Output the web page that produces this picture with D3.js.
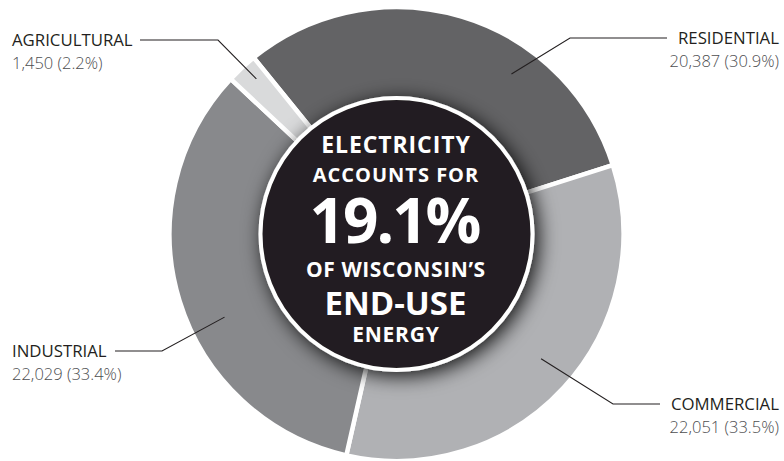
<!DOCTYPE html>
<html>
<head>
<meta charset="utf-8">
<script src="https://cdn.jsdelivr.net/npm/d3@7"></script>
<style>
  html, body { margin: 0; padding: 0; background: #ffffff; }
  svg { display: block; }
</style>
</head>
<body>
<svg id="chart" width="784" height="461"></svg>
<script>
// ---- data ----
const categories = ["RESIDENTIAL", "COMMERCIAL", "INDUSTRIAL", "AGRICULTURAL"];
const values = [20387, 22051, 22029, 1450];
const valueLabels = ["20,387 (30.9%)", "22,051 (33.5%)", "22,029 (33.4%)", "1,450 (2.2%)"];
const centerLines = ["ELECTRICITY", "ACCOUNTS FOR", "19.1%", "OF WISCONSIN\u2019S", "END-USE", "ENERGY"];

// ---- layout / style ----
const W = 784, H = 461;
const cx = 396.5, cy = 234;
const outerR = 227, innerR = 110;
const colors = ["#636365", "#b0b1b4", "#88898c", "#d9dadb"];
const startAngle = -39 * Math.PI / 180;

const svg = d3.select("#chart");
const defs = svg.append("defs");
const f = defs.append("filter").attr("id", "shadow")
  .attr("x", "-30%").attr("y", "-30%").attr("width", "160%").attr("height", "160%");
f.append("feDropShadow").attr("dx", 4).attr("dy", 4).attr("stdDeviation", 10)
  .attr("flood-color", "#000").attr("flood-opacity", 0.9);

const g = svg.append("g").attr("transform", `translate(${cx},${cy})`);

const pie = d3.pie().sort(null).value(d => d)
  .startAngle(startAngle).endAngle(startAngle + 2 * Math.PI);
const arcs = pie(values);
const arc = d3.arc().innerRadius(innerR).outerRadius(outerR);

g.selectAll("path.slice").data(arcs).join("path")
  .attr("class", "slice")
  .attr("d", arc)
  .attr("fill", (d, i) => colors[i])
  .attr("stroke", "#ffffff")
  .attr("stroke-width", 4.5)
  .attr("stroke-linejoin", "miter");

// center disc
g.append("circle").attr("r", 136)
  .attr("fill", "#231f20")
  .attr("stroke", "#ffffff").attr("stroke-width", 4)
  .attr("filter", "url(#shadow)");

// center text
const ctext = [
  { size: 23, dy: -81, ls: 0.9 },
  { size: 20, dy: -52, ls: 1.0 },
  { size: 62, dy: 9, ls: -2 },
  { size: 21, dy: 43, ls: 0.6 },
  { size: 33, dy: 81, ls: 0 },
  { size: 21, dy: 108, ls: 0.8 }
];
g.selectAll("text.center").data(centerLines).join("text")
  .attr("class", "center")
  .attr("x", (d, i) => -1 + ctext[i].ls / 2)
  .attr("y", (d, i) => ctext[i].dy)
  .attr("text-anchor", "middle")
  .attr("fill", "#ffffff")
  .attr("font-family", "'Open Sans', sans-serif")
  .attr("font-weight", 700)
  .attr("font-size", (d, i) => ctext[i].size)
  .attr("letter-spacing", (d, i) => ctext[i].ls)
  .text(d => d);

// leader lines and labels
const leaderLayout = [
  { ang: 35.7, r: 197, elbow: [570, 38], end: [667, 38], side: "right" },
  { ang: 130.8, r: 191, elbow: [613, 404], end: [660, 404], side: "right" },
  { ang: 244.2, r: 191, elbow: [162, 351], end: [115, 351], side: "left" },
  { ang: -42.1, r: 209, elbow: [218, 40], end: [140, 40], side: "left" }
];
const lineG = svg.append("g");
arcs.forEach((a, i) => {
  const L = leaderLayout[i];
  const t = L.ang * Math.PI / 180;
  const p0 = [cx + L.r * Math.sin(t), cy - L.r * Math.cos(t)];
  lineG.append("polyline")
    .attr("points", [p0, L.elbow, L.end].map(p => p.join(",")).join(" "))
    .attr("fill", "none").attr("stroke", "#231f20").attr("stroke-width", 1.1);
  const right = L.side === "right";
  const tx = right ? 779 : 12;
  const anchor = right ? "end" : "start";
  lineG.append("text")
    .attr("x", tx).attr("y", L.end[1] + 6)
    .attr("text-anchor", anchor)
    .attr("font-family", "'Open Sans', sans-serif")
    .attr("font-size", 16.8)
    .attr("fill", "#231f20")
    .text(categories[i]);
  lineG.append("text")
    .attr("x", tx).attr("y", L.end[1] + 29)
    .attr("text-anchor", anchor)
    .attr("font-family", "'Open Sans', sans-serif")
    .attr("font-weight", 300)
    .attr("font-size", 16.5)
    .attr("fill", "#4d4e50")
    .text(valueLabels[i]);
});
</script>
</body>
</html>
